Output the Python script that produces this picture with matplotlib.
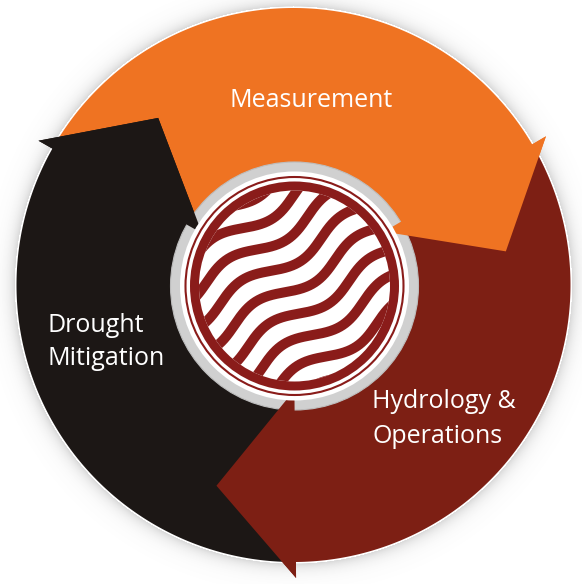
import numpy as np
import matplotlib
matplotlib.use("Agg")
import matplotlib.pyplot as plt
from matplotlib.patches import Polygon, Circle

# ---- content ----
stages = ["Measurement", "Hydrology &\nOperations", "Drought\nMitigation"]
stage_colors = ["#EF7322", "#7D1F14", "#1C1715"]
head_base_angles = [30.5, -89.5, 150.5]   # degrees, cycle goes clockwise
head_sweep = 21.5

# ---- geometry (pixel space) ----
W, H = 582, 584
cx, cy = 293.5, 285.0
R_out, R_in = 277, 105
R_barb_out, R_barb_in, R_tip = 293, 105, 215

fig = plt.figure(figsize=(W / 100, H / 100), dpi=100)
ax = fig.add_axes([0, 0, 1, 1])
ax.set_xlim(0, W)
ax.set_ylim(H, 0)
ax.axis("off")


def P(theta, r, c=(cx, cy)):
    t = np.deg2rad(theta)
    return (c[0] + r * np.cos(t), c[1] - r * np.sin(t))


# soft shadow around the ring
yy, xx = np.mgrid[0:H, 0:W] + 0.5
d = np.hypot(xx - cx, yy - cy) - (R_out + 1.5)
alpha = np.where(d > 0, 0.28 * np.exp(-d / 7.0), 0.0)
shadow = np.zeros((H, W, 4))
shadow[..., :3] = 0.45
shadow[..., 3] = alpha
ax.imshow(shadow, extent=(0, W, H, 0), zorder=0, interpolation="bilinear")
ax.add_patch(Circle((cx, cy), R_out + 1.5, facecolor="white", edgecolor="none", zorder=0.5))

# arrows: full bodies, then heads on top (cyclic overlap)
n = len(stages)
heads = []
for i in range(n):
    hb = head_base_angles[i]
    t0 = head_base_angles[i - 1]
    if t0 < hb:
        t0 += 360
    t0 -= 0.8   # tuck tail under previous head
    tip = hb - head_sweep
    outer = [P(a, R_out) for a in np.linspace(t0, hb, 200)]
    inner = [P(a, R_in) for a in np.linspace(hb, t0, 200)]
    pts = outer + [P(hb, R_barb_out), P(tip, R_tip), P(hb, R_barb_in)] + inner
    ax.add_patch(Polygon(pts, closed=True, facecolor=stage_colors[i],
                         edgecolor="none", zorder=1))
    heads.append(([P(hb, R_barb_out), P(tip, R_tip), P(hb, R_barb_in)], stage_colors[i]))

# logo ring
lc = (294.5, 286.0)
ax.add_patch(Circle(lc, 124, facecolor="#D0D0D0", edgecolor="#BDBDBD", lw=0.8, zorder=2))

for pts, col in heads:
    ax.add_patch(Polygon(pts, closed=True, facecolor=col, edgecolor="none", zorder=3))

logo_red = "#8A1C1A"
ax.add_patch(Circle(lc, 114.5, facecolor="white", edgecolor="none", zorder=4))
ax.add_patch(Circle(lc, 109.0, facecolor="none", edgecolor=logo_red, lw=1.5, zorder=5))
ax.add_patch(Circle(lc, 104.5, facecolor=logo_red, edgecolor="none", zorder=5))
clip = Circle(lc, 95.5, facecolor="white", edgecolor="none", zorder=6)
ax.add_patch(clip)

# wavy stripes
ang = np.deg2rad(33)
u = np.linspace(-160, 160, 600)
spacing = 25.5
amp, lam = 8.0, 120.0
for k in range(-6, 7):
    v = k * spacing + amp * np.sin(2 * np.pi * u / lam + 0.6)
    x = lc[0] + u * np.cos(ang) + v * np.sin(ang)
    y = lc[1] - u * np.sin(ang) + v * np.cos(ang)
    ln, = ax.plot(x, y, color=logo_red, lw=7.2, solid_capstyle="butt", zorder=7)
    ln.set_clip_path(clip)

# labels (one text per line, placed by baseline)
font = dict(family=["Open Sans", "DejaVu Sans"], size=18, color="white", zorder=10)
label_anchor = [(311, 107, "center"), (372, 408, "left"), (48, 332, "left")]
line_gap = [0, 35, 33]
for i, s in enumerate(stages):
    x0, y0, ha = label_anchor[i]
    for j, line in enumerate(s.split("\n")):
        ax.text(x0, y0 + j * line_gap[i], line, ha=ha, va="baseline", **font)

fig.savefig("out.png", dpi=100)
